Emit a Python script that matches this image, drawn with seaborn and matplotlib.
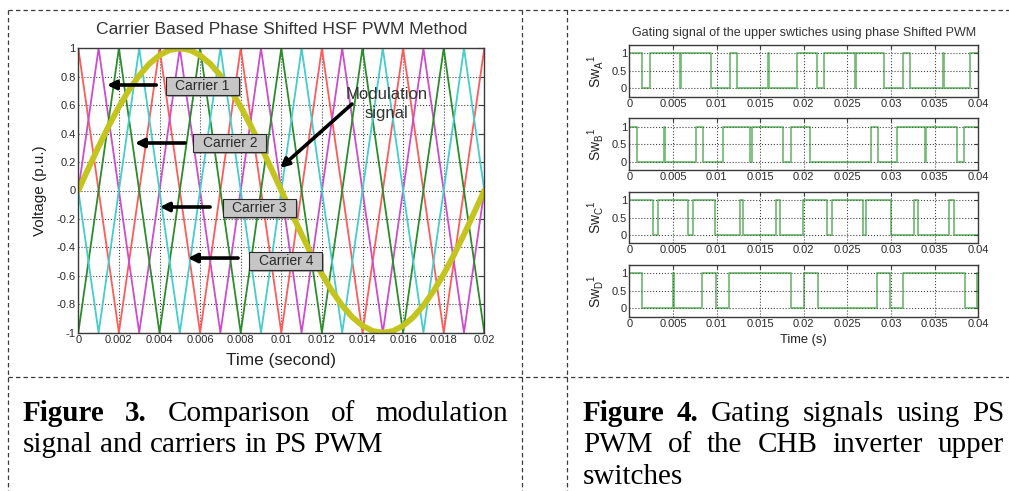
import matplotlib
matplotlib.use("Agg")
import matplotlib.pyplot as plt
import seaborn as sns
from matplotlib.lines import Line2D
from matplotlib.patches import Rectangle

# ---------------------------------------------------------------- data
# Figure 3: four phase-shifted triangular carriers (vertex times / values)
carrier_red_t = [0, 0.002, 0.004, 0.006, 0.008, 0.010, 0.012, 0.014, 0.016, 0.018, 0.020]
carrier_red_v = [1, -1, 1, -1, 1, -1, 1, -1, 1, -1, 1]
carrier_magenta_t = [0, 0.001, 0.003, 0.005, 0.007, 0.009, 0.011, 0.013, 0.015, 0.017, 0.019, 0.020]
carrier_magenta_v = [0, 1, -1, 1, -1, 1, -1, 1, -1, 1, -1, 0]
carrier_green_t = [0, 0.002, 0.004, 0.006, 0.008, 0.010, 0.012, 0.014, 0.016, 0.018, 0.020]
carrier_green_v = [-1, 1, -1, 1, -1, 1, -1, 1, -1, 1, -1]
carrier_cyan_t = [0, 0.001, 0.003, 0.005, 0.007, 0.009, 0.011, 0.013, 0.015, 0.017, 0.019, 0.020]
carrier_cyan_v = [0, -1, 1, -1, 1, -1, 1, -1, 1, -1, 1, 0]

# modulation signal samples (one fundamental period)
mod_t = [0.0000, 0.0005, 0.0010, 0.0015, 0.0020, 0.0025, 0.0030, 0.0035, 0.0040, 0.0045,
         0.0050, 0.0055, 0.0060, 0.0065, 0.0070, 0.0075, 0.0080, 0.0085, 0.0090, 0.0095,
         0.0100, 0.0105, 0.0110, 0.0115, 0.0120, 0.0125, 0.0130, 0.0135, 0.0140, 0.0145,
         0.0150, 0.0155, 0.0160, 0.0165, 0.0170, 0.0175, 0.0180, 0.0185, 0.0190, 0.0195,
         0.0200]
mod_v = [0.000, 0.156, 0.309, 0.454, 0.588, 0.707, 0.809, 0.891, 0.951, 0.988,
         1.000, 0.988, 0.951, 0.891, 0.809, 0.707, 0.588, 0.454, 0.309, 0.156,
         0.000, -0.156, -0.309, -0.454, -0.588, -0.707, -0.809, -0.891, -0.951, -0.988,
         -1.000, -0.988, -0.951, -0.891, -0.809, -0.707, -0.588, -0.454, -0.309, -0.156,
         0.000]

fig3_xticks = [0, 0.002, 0.004, 0.006, 0.008, 0.010, 0.012, 0.014, 0.016, 0.018, 0.020]
fig3_xlabels = ["0", "0.002", "0.004", "0.006", "0.008", "0.01", "0.012", "0.014", "0.016", "0.018", "0.02"]
fig3_yticks = [-1, -0.8, -0.6, -0.4, -0.2, 0, 0.2, 0.4, 0.6, 0.8, 1]
fig3_ylabels = ["-1", "-0.8", "-0.6", "-0.4", "-0.2", "0", "0.2", "0.4", "0.6", "0.8", "1"]
carrier_names = ["Carrier 1", "Carrier 2", "Carrier 3", "Carrier 4"]

# Figure 4: gating signals, switching instants and the level after each one
swA_t = [0, 0.00149, 0.00237, 0.00585, 0.00597, 0.00932, 0.01154, 0.01230, 0.01594, 0.01606,
         0.01918, 0.02147, 0.02235, 0.02585, 0.02597, 0.02923, 0.03133, 0.03217, 0.03594,
         0.03606, 0.03905]
swA_v = [1, 0, 1, 0, 1, 0, 1, 0, 1, 0, 1, 0, 1, 0, 1, 0, 1, 0, 1, 0, 1]
swB_t = [0, 0.00088, 0.00395, 0.00407, 0.00764, 0.00848, 0.01070, 0.01389, 0.01401, 0.01765,
         0.01849, 0.02070, 0.02770, 0.02854, 0.03064, 0.03384, 0.03396, 0.03752, 0.03836]
swB_v = [1, 0, 1, 0, 1, 0, 1, 0, 1, 0, 1, 0, 1, 0, 1, 0, 1, 0, 1]
swC_t = [0, 0.00267, 0.00325, 0.00676, 0.00726, 0.00982, 0.01268, 0.01307, 0.01677, 0.01727,
         0.01994, 0.02262, 0.02327, 0.02682, 0.02709, 0.02995, 0.03267, 0.03312, 0.03668, 0.03721]
swC_v = [1, 0, 1, 0, 1, 0, 1, 0, 1, 0, 1, 0, 1, 0, 1, 0, 1, 0, 1, 0]
swD_t = [0, 0.00149, 0.00498, 0.00510, 0.00837, 0.00990, 0.01142, 0.01849, 0.02002, 0.02158,
         0.02835, 0.02988, 0.03141, 0.03847, 0.03988]
swD_v = [1, 0, 1, 0, 1, 0, 1, 0, 1, 0, 1, 0, 1, 0, 1]
sw_end = 0.04
sw_names = [r"Sw$_\mathregular{A}$$^\mathregular{1}$", r"Sw$_\mathregular{B}$$^\mathregular{1}$",
            r"Sw$_\mathregular{C}$$^\mathregular{1}$", r"Sw$_\mathregular{D}$$^\mathregular{1}$"]
fig4_xticks = [0, 0.005, 0.010, 0.015, 0.020, 0.025, 0.030, 0.035, 0.040]
fig4_xlabels = ["0", "0.005", "0.01", "0.015", "0.02", "0.025", "0.03", "0.035", "0.04"]
fig4_yticks = [0, 0.5, 1]
fig4_ylabels = ["0", "0.5", "1"]

# ---------------------------------------------------------------- setup
sns.set_theme(style="white")
plt.rcParams["font.family"] = ["Liberation Sans", "DejaVu Sans"]
plt.rcParams["mathtext.fontset"] = "custom"
plt.rcParams["mathtext.rm"] = "Liberation Sans"

W, H = 1009, 491
fig = plt.figure(figsize=(W / 100, H / 100), dpi=100)
fig.patch.set_facecolor("white")


def rect(left, top, right, bottom):
    return [left / W, 1 - bottom / H, (right - left) / W, (bottom - top) / H]


def matlab_axes(ax, labelsize):
    for s in ax.spines.values():
        s.set_color("#3a3a3a")
        s.set_linewidth(1.0)
    ax.grid(True, ls=":", color="#444444", lw=0.8)
    ax.tick_params(direction="in", top=True, right=True, length=4, width=0.8,
                   labelsize=labelsize, labelcolor="#2a2a2a", color="#3a3a3a", pad=2)
    ax.set_facecolor("white")


# ---------------------------------------------------------------- Figure 3
ax = fig.add_axes(rect(78.3, 48.3, 484.3, 332.7))
carriers = [(carrier_red_t, carrier_red_v, "#ff5a5a"),
            (carrier_magenta_t, carrier_magenta_v, "#cc4ccc"),
            (carrier_green_t, carrier_green_v, "#2a8c2a"),
            (carrier_cyan_t, carrier_cyan_v, "#45cccc")]
for tt, vv, col in carriers:
    sns.lineplot(x=tt, y=vv, ax=ax, color=col, lw=1.3, estimator=None, sort=False, legend=False)
sns.lineplot(x=mod_t, y=mod_v, ax=ax, color="#c4c41e", lw=4.2, estimator=None, sort=False,
             legend=False, solid_capstyle="round")

ax.set_xlim(0, 0.02)
ax.set_ylim(-1, 1)
ax.set_xticks(fig3_xticks)
ax.set_xticklabels(fig3_xlabels)
ax.set_yticks(fig3_yticks)
ax.set_yticklabels(fig3_ylabels)
matlab_axes(ax, 8)
ax.set_title("Carrier Based Phase Shifted HSF PWM Method", fontsize=12.6, color="#333333", pad=10)
ax.set_xlabel("Time (second)", fontsize=12.4, color="#222222")
ax.set_ylabel("Voltage (p.u.)", fontsize=11, color="#222222")
ax.xaxis.set_label_coords(0.5, -0.07)
ax.yaxis.set_label_coords(-0.077, 0.5)

# callouts: (box centre, arrow tail, arrow head) in data units
box_w, box_h = 0.0036, 0.127
shadow_dx, shadow_dy = 0.0001, -0.014
callouts = [((0.00610, 0.735), (0.00384, 0.742), (0.00141, 0.742)),
            ((0.00747, 0.335), (0.00526, 0.334), (0.00279, 0.334)),
            ((0.00893, -0.123), (0.00649, -0.116), (0.00402, -0.116)),
            ((0.01022, -0.494), (0.00787, -0.475), (0.00540, -0.475))]
for name, (cxy, tail, head) in zip(carrier_names, callouts):
    ax.annotate("", xy=head, xytext=tail,
                arrowprops=dict(arrowstyle="-|>", color="black", lw=2.6, mutation_scale=13,
                                shrinkA=0, shrinkB=0))
    x0, y0 = cxy[0] - box_w / 2, cxy[1] - box_h / 2
    ax.add_patch(Rectangle((x0 + shadow_dx, y0 + shadow_dy), box_w, box_h, fc="#6a6a6a",
                           ec="none", alpha=0.55, zorder=5))
    ax.add_patch(Rectangle((x0, y0), box_w, box_h, fc="#c6c6c6", ec="#2a2a2a", lw=0.8, zorder=6))
    ax.text(*cxy, name, ha="center", va="center", fontsize=10, color="#2a2a2a", zorder=7)

ax.annotate("", xy=(0.00994, 0.158), xytext=(0.01348, 0.608),
            arrowprops=dict(arrowstyle="-|>", color="black", lw=2.6, mutation_scale=13,
                            shrinkA=0, shrinkB=0))
ax.text(0.0152, 0.61, "Modulation\nsignal", ha="center", va="center", fontsize=12,
        color="#333333", linespacing=1.3, zorder=6)

# ---------------------------------------------------------------- Figure 4
signals = [(swA_t, swA_v), (swB_t, swB_v), (swC_t, swC_v), (swD_t, swD_v)]
tops = [45.0, 118.3, 191.7, 265.0]
for i, ((tt, vv), top, name) in enumerate(zip(signals, tops, sw_names)):
    a = fig.add_axes(rect(629.3, top, 978.3, top + 51.7))
    sns.lineplot(x=tt + [sw_end], y=vv + [vv[-1]], ax=a, color="#1f8f1f", alpha=0.6, lw=1.3,
                 drawstyle="steps-post", estimator=None, sort=False, legend=False)
    a.set_xlim(0, 0.04)
    a.set_ylim(-0.24, 1.24)
    a.set_xticks(fig4_xticks)
    a.set_xticklabels(fig4_xlabels)
    a.set_yticks(fig4_yticks)
    a.set_yticklabels(fig4_ylabels)
    matlab_axes(a, 8)
    a.tick_params(length=3, pad=1.5)
    a.set_ylabel(name, fontsize=10, color="#222222")
    a.yaxis.set_label_coords(-0.066, 0.5)
    if i == 0:
        a.set_title("Gating signal of the upper swtiches using phase Shifted PWM",
                    fontsize=9, color="#333333", pad=6.5)
    if i == 3:
        a.set_xlabel("Time (s)", fontsize=9.3, color="#222222")
        a.xaxis.set_label_coords(0.5, -0.33)

# ---------------------------------------------------------------- frame
def dashed(x0, y0, x1, y1):
    fig.add_artist(Line2D([x0 / W, x1 / W], [1 - y0 / H, 1 - y1 / H], transform=fig.transFigure,
                          ls=(0, (3.5, 2.5)), color="#3a3a3a", lw=0.9))

dashed(8, 10, W, 10)
dashed(8, 376.5, W, 376.5)
dashed(8, 10, 8, H)
dashed(522.3, 10, 522.3, H)
dashed(567.3, 10, 567.3, H)

# ---------------------------------------------------------------- captions
renderer = fig.canvas.get_renderer()
CAP = 21


def caption_line(words, x0, x1, baseline, n_bold=0, justify=True):
    arts = []
    for k, w in enumerate(words):
        arts.append(fig.text(0, 1 - baseline / H, w, fontsize=CAP, family="Liberation Serif",
                             weight="bold" if k < n_bold else "normal", color="black",
                             ha="left", va="baseline"))
    widths = [t.get_window_extent(renderer).width for t in arts]
    if justify and len(words) > 1:
        gap = (x1 - x0 - sum(widths)) / (len(words) - 1)
    else:
        gap = 0.25 * CAP * 100 / 72
    x = x0
    for t, w in zip(arts, widths):
        t.set_x(x / W)
        x += w + gap


caption_line(["Figure", "3.", "Comparison", "of", "modulation"], 23, 508, 421, n_bold=2)
caption_line("signal and carriers in PS PWM".split(), 23, 508, 452.5, justify=False)
caption_line(["Figure", "4.", "Gating", "signals", "using", "PS"], 583, 1004, 421, n_bold=2)
caption_line(["PWM", "of", "the", "CHB", "inverter", "upper"], 583, 1004, 452.5)
caption_line(["switches"], 583, 1004, 484, justify=False)

fig.savefig("out.png", dpi=100, facecolor="white")
